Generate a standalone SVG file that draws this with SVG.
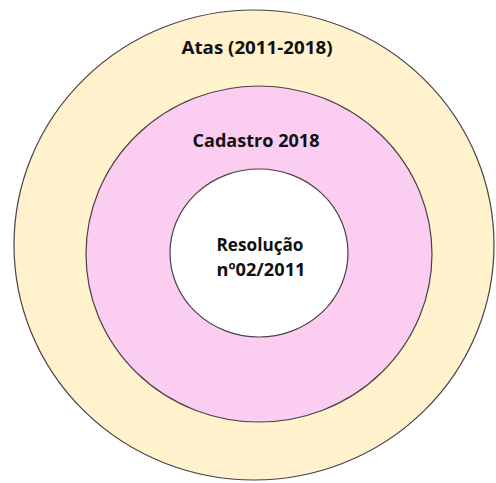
<svg xmlns="http://www.w3.org/2000/svg" width="496" height="483" viewBox="0 0 496 483">
<style>
.ring{stroke:#4a4048;stroke-width:1.2}
.lbl{font-family:"Open Sans","Liberation Sans",sans-serif;font-weight:bold;font-size:18px;fill:#111;text-anchor:middle}
</style>
<rect width="496" height="483" fill="#ffffff"/>
<g id="atas">
<ellipse class="ring" cx="254" cy="245" rx="240" ry="235" fill="#FFF2CC"/>
<text class="lbl" x="257" y="54" textLength="151" lengthAdjust="spacingAndGlyphs">Atas (2011-2018)</text>
</g>
<g id="cadastro">
<ellipse class="ring" cx="259" cy="254" rx="173" ry="168" fill="#FBCDF1"/>
<text class="lbl" x="256" y="147" textLength="127" lengthAdjust="spacingAndGlyphs">Cadastro 2018</text>
</g>
<g id="resolucao">
<ellipse class="ring" cx="259" cy="253" rx="89" ry="84" fill="#ffffff"/>
<text class="lbl" x="260" y="251" textLength="87" lengthAdjust="spacingAndGlyphs">Resolução</text>
<text class="lbl" x="261" y="276" textLength="89" lengthAdjust="spacingAndGlyphs">nº02/2011</text>
</g>
<g id="connectors"/>
</svg>
